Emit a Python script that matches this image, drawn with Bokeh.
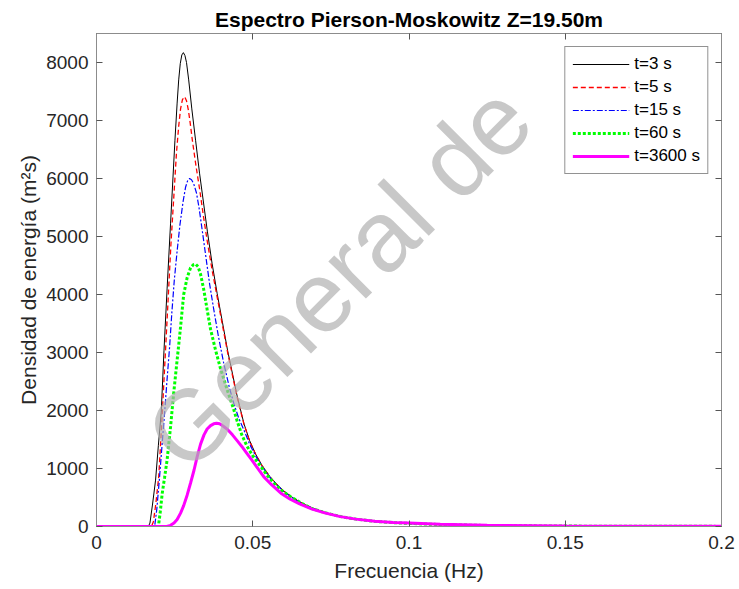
import math
from bokeh.plotting import figure
from bokeh.models import (Range1d, LinearAxis, FixedTicker, CustomJSTickFormatter,
                          Legend, LegendItem, Label)
from bokeh.embed import file_html
from bokeh.resources import INLINE

# ---------------- data ----------------
title_text = "Espectro Pierson-Moskowitz Z=19.50m"
x_label = "Frecuencia (Hz)"
y_label = "Densidad de energía (m²s)"
x_ticks = [0, 0.05, 0.1, 0.15, 0.2]
y_ticks = [0, 1000, 2000, 3000, 4000, 5000, 6000, 7000, 8000]
labels = ["t=3 s", "t=5 s", "t=15 s", "t=60 s", "t=3600 s"]

f_t3 = [0.0, 0.0160, 0.0166, 0.0171, 0.0179, 0.0189, 0.0198, 0.0207, 0.0216, 0.0226,
        0.0237, 0.0251, 0.0258, 0.0263, 0.0268, 0.0273, 0.0278, 0.0283, 0.0288, 0.0295,
        0.0305, 0.0317, 0.0330, 0.0343, 0.0355, 0.0370, 0.0386, 0.0402, 0.0420, 0.0438,
        0.0450, 0.0472, 0.0490, 0.0510, 0.0530, 0.0555, 0.0580, 0.0600, 0.0630, 0.0660,
        0.0690, 0.0730, 0.0780, 0.0830, 0.0890, 0.0950, 0.1000, 0.1100, 0.1250, 0.1500,
        0.1750, 0.2000]
s_t3 = [0, 0, 0, 60, 370, 800, 1400, 1960, 3040, 4110,
        5230, 6660, 7300, 7700, 7980, 8130, 8170, 8120, 8000, 7700,
        7200, 6660, 6080, 5560, 5080, 4530, 4020, 3550, 3020, 2560,
        2250, 1770, 1480, 1240, 1050, 860, 710, 610, 490, 395,
        320, 245, 175, 128, 90, 66, 53, 33, 17, 7,
        4, 2]

f_t5 = [0.0, 0.0170, 0.0176, 0.0182, 0.0190, 0.0199, 0.0210, 0.0221, 0.0230, 0.0238,
        0.0247, 0.0256, 0.0263, 0.0269, 0.0275, 0.0282, 0.0288, 0.0294, 0.0300, 0.0307,
        0.0318, 0.0331, 0.0343, 0.0355, 0.0370, 0.0386, 0.0402, 0.0420, 0.0438, 0.0450,
        0.0472, 0.0490, 0.0510, 0.0530, 0.0555, 0.0580, 0.0600, 0.0630, 0.0660, 0.0690,
        0.0730, 0.0780, 0.0830, 0.0890, 0.0950, 0.1000, 0.1100, 0.1250, 0.1500, 0.1750,
        0.2000]
s_t5 = [0, 0, 0, 80, 400, 850, 1900, 3050, 4000, 4850,
        5650, 6450, 6900, 7200, 7360, 7410, 7340, 7180, 6950, 6650,
        6230, 5780, 5320, 4900, 4420, 3960, 3500, 2990, 2530, 2230,
        1760, 1470, 1235, 1045, 855, 705, 605, 487, 393, 318,
        243, 174, 127, 89, 66, 53, 33, 17, 7, 4,
        2]

f_t15 = [0.0, 0.0180, 0.0186, 0.0193, 0.0201, 0.0209, 0.0218, 0.0226, 0.0234, 0.0241,
         0.0249, 0.0258, 0.0267, 0.0277, 0.0285, 0.0292, 0.0298, 0.0304, 0.0311, 0.0320,
         0.0328, 0.0338, 0.0350, 0.0362, 0.0375, 0.0390, 0.0407, 0.0425, 0.0440, 0.0455,
         0.0472, 0.0490, 0.0510, 0.0530, 0.0555, 0.0580, 0.0600, 0.0630, 0.0660, 0.0690,
         0.0730, 0.0780, 0.0830, 0.0890, 0.0950, 0.1000, 0.1100, 0.1250, 0.1500, 0.1750,
         0.2000]
s_t15 = [0, 0, 0, 300, 800, 1350, 1960, 2550, 3100, 3680,
         4250, 4750, 5200, 5600, 5850, 5970, 6000, 5980, 5910, 5750,
         5500, 5120, 4650, 4180, 3750, 3280, 2820, 2400, 2110, 1870,
         1660, 1420, 1210, 1030, 845, 700, 600, 483, 390, 316,
         242, 173, 127, 89, 66, 53, 33, 17, 7, 4,
         2]

f_t60 = [0.0, 0.0192, 0.0198, 0.0204, 0.0210, 0.0218, 0.0226, 0.0237, 0.0247, 0.0258,
         0.0269, 0.0279, 0.0290, 0.0301, 0.0310, 0.0317, 0.0325, 0.0333, 0.0343, 0.0354,
         0.0365, 0.0381, 0.0397, 0.0418, 0.0439, 0.0450, 0.0465, 0.0482, 0.0500, 0.0525,
         0.0545, 0.0567, 0.0590, 0.0621, 0.0650, 0.0685, 0.0730, 0.0780, 0.0830, 0.0890,
         0.0950, 0.1000, 0.1100, 0.1250, 0.1500, 0.1750, 0.2000]
s_t60 = [0, 0, 0, 250, 560, 850, 1150, 1720, 2300, 2870,
         3440, 4000, 4290, 4460, 4515, 4526, 4480, 4350, 4090, 3740,
         3400, 3040, 2720, 2360, 2020, 1820, 1580, 1380, 1220, 1040,
         890, 750, 630, 514, 420, 318, 240, 172, 127, 89,
         66, 53, 33, 17, 7, 4, 2]

f_t3600 = [0.0, 0.0225, 0.0237, 0.0248, 0.0258, 0.0269, 0.0279, 0.0290, 0.0301, 0.0312,
           0.0322, 0.0333, 0.0344, 0.0354, 0.0365, 0.0375, 0.0384, 0.0394, 0.0407, 0.0420,
           0.0435, 0.0450, 0.0465, 0.0480, 0.0495, 0.0515, 0.0535, 0.0560, 0.0590, 0.0620,
           0.0650, 0.0690, 0.0730, 0.0780, 0.0830, 0.0890, 0.0950, 0.1000, 0.1100, 0.1250,
           0.1500, 0.1750, 0.2000]
s_t3600 = [0, 0, 20, 60, 120, 230, 360, 540, 750, 970,
           1200, 1420, 1580, 1680, 1740, 1770, 1779, 1770, 1725, 1670,
           1580, 1480, 1380, 1270, 1160, 1010, 860, 720, 575, 470,
           390, 300, 235, 170, 127, 90, 70, 60, 40, 22,
           10, 5, 3]

watermark_text = "General de"

# ---------------- figure ----------------
FONT = "Liberation Sans"
AX = "#262626"

p = figure(width=739, height=589, output_backend="svg", toolbar_location=None,
           x_range=Range1d(0, 0.2), y_range=Range1d(0, 8500),
           min_border_left=96, min_border_right=18, min_border_top=33, min_border_bottom=63,
           x_axis_label=x_label, y_axis_label=y_label)
p.title.text = title_text
p.title.align = "center"
p.title.text_font = FONT
p.title.text_font_size = "21px"
p.title.text_font_style = "bold"
p.title.text_color = "#000000"
p.title.standoff = 6
p.xgrid.visible = False
p.ygrid.visible = False
p.outline_line_color = "#8c8c8c"
p.background_fill_color = "white"
p.border_fill_color = "white"

fmt = CustomJSTickFormatter(code="return String(Number(tick.toFixed(4)));")
empty_fmt = CustomJSTickFormatter(code="return '';")

def style_axis(ax, ticks, formatter, labels_visible=True):
    ax.ticker = FixedTicker(ticks=ticks)
    ax.formatter = formatter
    ax.axis_line_color = "#8c8c8c"
    ax.major_tick_line_color = "#555555"
    ax.major_tick_in = 6
    ax.major_tick_out = 0
    ax.minor_tick_line_color = None
    ax.major_label_text_font = FONT
    ax.major_label_text_color = AX
    ax.major_label_text_font_size = "19px" if labels_visible else "0px"
    ax.axis_label_text_font = FONT
    ax.axis_label_text_font_size = "21px"
    ax.axis_label_text_font_style = "normal"
    ax.axis_label_text_color = AX

style_axis(p.xaxis[0], x_ticks, fmt)
p.xaxis[0].major_label_standoff = 9
p.xaxis[0].axis_label_standoff = 7
style_axis(p.yaxis[0], y_ticks, fmt)
p.yaxis[0].major_label_standoff = 8
p.yaxis[0].axis_label_standoff = 3

top_ax = LinearAxis()
style_axis(top_ax, x_ticks, empty_fmt, labels_visible=False)
top_ax.major_label_standoff = 0
p.add_layout(top_ax, "above")
right_ax = LinearAxis()
style_axis(right_ax, y_ticks, empty_fmt, labels_visible=False)
right_ax.major_label_standoff = 0
p.add_layout(right_ax, "right")

# watermark (kept fully inside the plot frame so that it is not cut off)
wm = Label(x=0.0214, y=1290, text=watermark_text, angle=math.pi / 4,
           text_font=FONT, text_font_size="100px", text_color="#b0b0b0",
           text_alpha=0.7, text_baseline="alphabetic", text_align="left")
p.add_layout(wm)

r1 = p.line(f_t3, s_t3, line_color="#000000", line_width=1)
r2 = p.line(f_t5, s_t5, line_color="#ff0000", line_width=1.3, line_dash="5 3")
r3 = p.line(f_t15, s_t15, line_color="#0000ff", line_width=1.2, line_dash="6 2 2 2")
r4 = p.line(f_t60, s_t60, line_color="#00ff00", line_width=3, line_dash="3 2")
r5 = p.line(f_t3600, s_t3600, line_color="#ff00ff", line_width=3)

legend = Legend(items=[LegendItem(label=l, renderers=[r]) for l, r in
                       zip(labels, [r1, r2, r3, r4, r5])],
                location="top_right")
legend.label_text_font = FONT
legend.label_text_font_size = "17px"
legend.label_text_color = "#000000"
legend.glyph_width = 57
legend.glyph_height = 20
legend.label_height = 20
legend.spacing = 3
legend.padding = 7
legend.margin = 13
legend.label_standoff = 5
legend.border_line_color = AX
legend.border_line_width = 1
legend.background_fill_color = "white"
legend.background_fill_alpha = 1
p.add_layout(legend)

open("out.html", "w").write(file_html(p, INLINE))
